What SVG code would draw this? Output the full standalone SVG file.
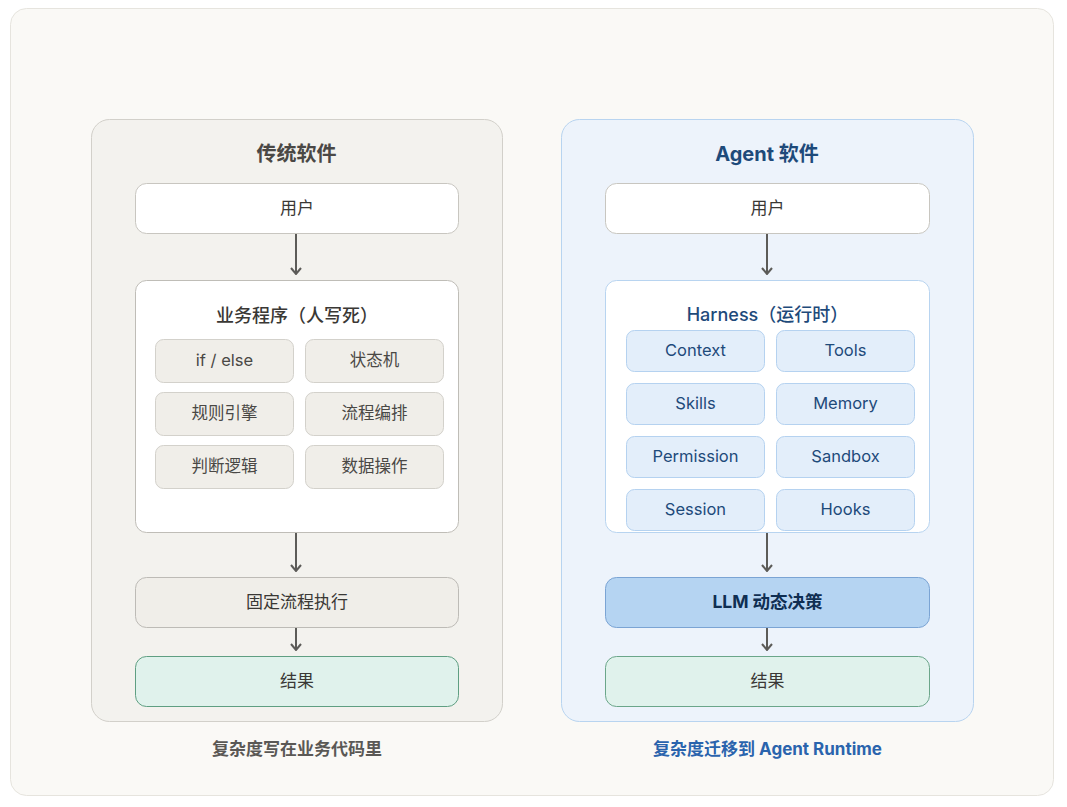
<svg xmlns="http://www.w3.org/2000/svg" width="1067" height="807" viewBox="0 0 1067 807">
<style>
text{font-family:"Inter","Noto Sans CJK SC",sans-serif;text-anchor:middle;dominant-baseline:central}
.title{font-size:20px;font-weight:700}
.sub{font-size:18px;font-weight:500}
.lbl{font-size:17px;fill:#3a3835}
.cell{font-size:16.5px}
.cap{font-size:17px;font-weight:700}
.cellL{fill:#f0eee9;stroke:#d3d1cb;stroke-width:1}
.cellR{fill:#e3eefa;stroke:#b5d2f0;stroke-width:1}
.conn{stroke:#5c5b58;stroke-width:2;fill:none}
</style>
<defs>
<marker id="ah" viewBox="0 0 12 12" refX="11" refY="6" markerWidth="12" markerHeight="12" markerUnits="userSpaceOnUse" orient="auto">
<path d="M5 1 L11 6 L5 11" fill="none" stroke="#5c5b58" stroke-width="2"/>
</marker>
</defs>
<rect x="10.5" y="8.5" width="1043" height="787" rx="16" fill="#faf9f6" stroke="#e6e4de"/>

<g id="panel-left">
<rect x="91.5" y="119.5" width="411" height="602" rx="18" fill="#f3f2ee" stroke="#d2d0ca"/>
<text class="title" x="296.5" y="154" fill="#4a4845">传统软件</text>
</g>
<g id="panel-right">
<rect x="561.5" y="119.5" width="412" height="602" rx="18" fill="#edf3fb" stroke="#b8d4f0"/>
<text class="title" x="767" y="154" fill="#1e4a7a">Agent 软件</text>
</g>

<g id="l-user">
<rect x="135.5" y="183.5" width="323" height="50" rx="11" fill="#ffffff" stroke="#c8c6c0"/>
<text class="lbl" x="297" y="207.5">用户</text>
</g>
<g id="l-biz">
<rect x="135.5" y="280.5" width="323" height="252" rx="11" fill="#ffffff" stroke="#bfbdb7"/>
<text class="sub" x="297" y="315" fill="#3a3835" font-weight="700">业务程序（人写死）</text>
<rect class="cellL" x="155.5" y="339.5" width="138" height="43" rx="8"/>
<text class="cell" x="224.5" y="360" fill="#4a4845">if / else</text>
<rect class="cellL" x="305.5" y="339.5" width="138" height="43" rx="8"/>
<text class="cell" x="374.5" y="360" fill="#4a4845">状态机</text>
<rect class="cellL" x="155.5" y="392.5" width="138" height="43" rx="8"/>
<text class="cell" x="224.5" y="413" fill="#4a4845">规则引擎</text>
<rect class="cellL" x="305.5" y="392.5" width="138" height="43" rx="8"/>
<text class="cell" x="374.5" y="413" fill="#4a4845">流程编排</text>
<rect class="cellL" x="155.5" y="445.5" width="138" height="43" rx="8"/>
<text class="cell" x="224.5" y="466" fill="#4a4845">判断逻辑</text>
<rect class="cellL" x="305.5" y="445.5" width="138" height="43" rx="8"/>
<text class="cell" x="374.5" y="466" fill="#4a4845">数据操作</text>
</g>
<g id="l-exec">
<rect x="135.5" y="577.5" width="323" height="50" rx="11" fill="#f0eee9" stroke="#bdbbb6"/>
<text class="lbl" x="297" y="601.5">固定流程执行</text>
</g>
<g id="l-result">
<rect x="135.5" y="656.5" width="323" height="50" rx="11" fill="#e0f2ec" stroke="#5f9f82"/>
<text class="lbl" x="297" y="680.5" fill="#1e5c40">结果</text>
</g>
<text class="cap" x="297" y="749" fill="#5a5855">复杂度写在业务代码里</text>

<g id="r-user">
<rect x="605.5" y="183.5" width="324" height="50" rx="11" fill="#ffffff" stroke="#c8c6c0"/>
<text class="lbl" x="767.5" y="207.5">用户</text>
</g>
<g id="r-harness">
<rect x="605.5" y="280.5" width="324" height="252" rx="11" fill="#ffffff" stroke="#b8d4f0"/>
<text class="sub" x="767.5" y="314" fill="#1e4a7a">Harness（运行时）</text>
<rect class="cellR" x="626.5" y="330.5" width="138" height="41" rx="8"/>
<text class="cell" x="695.5" y="350" fill="#1e4a7a">Context</text>
<rect class="cellR" x="776.5" y="330.5" width="138" height="41" rx="8"/>
<text class="cell" x="845.5" y="350" fill="#1e4a7a">Tools</text>
<rect class="cellR" x="626.5" y="383.5" width="138" height="41" rx="8"/>
<text class="cell" x="695.5" y="403" fill="#1e4a7a">Skills</text>
<rect class="cellR" x="776.5" y="383.5" width="138" height="41" rx="8"/>
<text class="cell" x="845.5" y="403" fill="#1e4a7a">Memory</text>
<rect class="cellR" x="626.5" y="436.5" width="138" height="41" rx="8"/>
<text class="cell" x="695.5" y="456" fill="#1e4a7a">Permission</text>
<rect class="cellR" x="776.5" y="436.5" width="138" height="41" rx="8"/>
<text class="cell" x="845.5" y="456" fill="#1e4a7a">Sandbox</text>
<rect class="cellR" x="626.5" y="489.5" width="138" height="41" rx="8"/>
<text class="cell" x="695.5" y="509" fill="#1e4a7a">Session</text>
<rect class="cellR" x="776.5" y="489.5" width="138" height="41" rx="8"/>
<text class="cell" x="845.5" y="509" fill="#1e4a7a">Hooks</text>
</g>
<g id="r-llm">
<rect x="605.5" y="577.5" width="324" height="50" rx="11" fill="#b5d4f2" stroke="#7ba4d4"/>
<text x="767.5" y="601.5" font-size="17.5" font-weight="700" fill="#0f2e52">LLM 动态决策</text>
</g>
<g id="r-result">
<rect x="605.5" y="656.5" width="324" height="50" rx="11" fill="#e0f2ec" stroke="#6ba68a"/>
<text class="lbl" x="767.5" y="680.5" fill="#1e5c40">结果</text>
</g>
<text class="cap" x="767.5" y="749" fill="#2a64ad">复杂度迁移到 Agent Runtime</text>

<g id="connectors">
<line class="conn" x1="296" y1="234" x2="296" y2="274" marker-end="url(#ah)"/>
<line class="conn" x1="296" y1="533" x2="296" y2="571" marker-end="url(#ah)"/>
<line class="conn" x1="296" y1="628" x2="296" y2="650" marker-end="url(#ah)"/>
<line class="conn" x1="767" y1="234" x2="767" y2="274" marker-end="url(#ah)"/>
<line class="conn" x1="767" y1="533" x2="767" y2="571" marker-end="url(#ah)"/>
<line class="conn" x1="767" y1="628" x2="767" y2="650" marker-end="url(#ah)"/>
</g>
</svg>
